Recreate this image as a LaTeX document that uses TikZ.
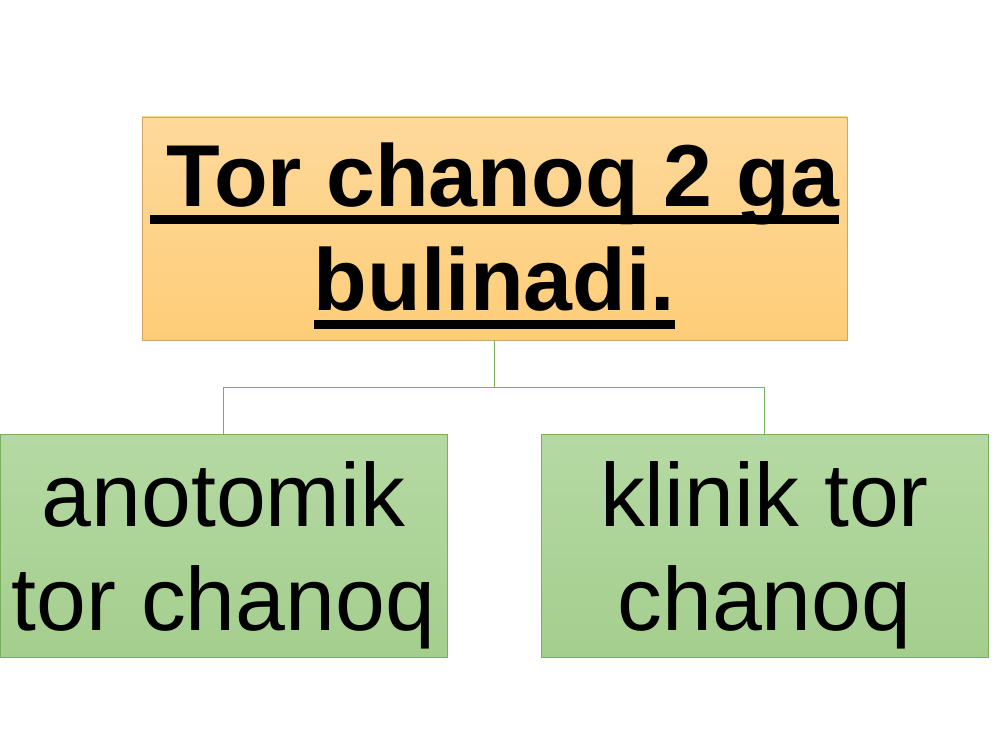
\documentclass[tikz,border=0pt]{standalone}
\usepackage{fontspec}
\setmainfont{Liberation Sans}
\newcommand{\ulline}[1]{\leavevmode\setbox0\hbox{#1}\rlap{\rule[-10.2pt]{\wd0}{5.1pt}}\box0}
\definecolor{orangetop}{RGB}{254,217,155}
\definecolor{orangebot}{RGB}{254,205,120}
\definecolor{orangeline}{RGB}{205,165,105}
\definecolor{greentop}{RGB}{181,217,163}
\definecolor{greenbot}{RGB}{164,206,142}
\definecolor{greenline}{RGB}{120,175,90}
\tikzset{
  bigtext/.style={font=\fontsize{51}{59.5}\selectfont, align=center, inner sep=0pt},
  headbox/.style={bigtext, draw=orangeline, top color=orangetop, bottom color=orangebot,
    minimum width=14.1cm, minimum height=4.46cm},
  kindbox/.style={bigtext, draw=greenline, top color=greentop, bottom color=greenbot,
    minimum width=8.94cm, minimum height=4.46cm},
  link/.style={draw=greenline, line width=0.6pt}
}
\begin{document}
\begin{tikzpicture}
			%%%%% START %%%%%
			\useasboundingbox (0, 0) rectangle (20, 15);
			
			\node[headbox, font=\fontsize{50}{59.3}\selectfont\bfseries] (tor) at (9.89, 10.43)
			  {\rule{0pt}{44.5pt}\ulline{\hspace{0.34cm}Tor chanoq 2 ga}\\\ulline{bulinadi.}};
			
			\node[kindbox] (anatomik) at (4.47, 4.09) {\rule{0pt}{48pt}anotomik\\tor chanoq};
			\node[kindbox] (klinik) at (15.29, 4.09) {\rule{0pt}{48pt}klinik tor\\chanoq};
			
			\draw[link] (tor.south) -- ++(0, -0.94) -| (anatomik.north);
			\draw[link] (tor.south) -- ++(0, -0.94) -| (klinik.north);
			%%%%% END %%%%%
\end{tikzpicture}
\end{document}
